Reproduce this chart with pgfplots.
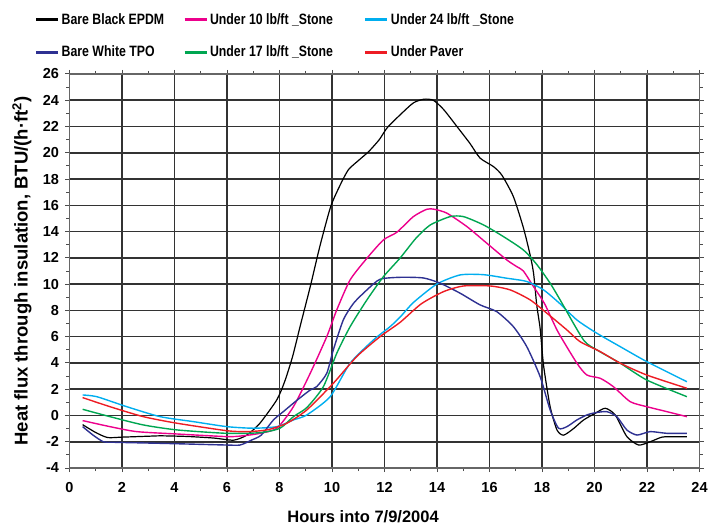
\documentclass[border=0pt]{standalone}
\usepackage{fontspec}
\setmainfont{Liberation Sans}
\newfontfamily\narrowfont{Liberation Sans}[FakeStretch=0.82]
\usepackage{pgfplots}
\pgfplotsset{compat=1.18}
\definecolor{cpink}{RGB}{236,0,140}
\definecolor{ccyan}{RGB}{0,174,239}
\definecolor{cblue}{RGB}{46,49,146}
\definecolor{cgreen}{RGB}{0,166,81}
\definecolor{cred}{RGB}{237,28,36}
\begin{document}
\begin{tikzpicture}
\useasboundingbox (-69.5pt,-59pt) rectangle (638.5pt,468pt);
\begin{axis}[
  at={(0pt,0pt)}, anchor=south west,
  scale only axis, width=630pt, height=394pt,
  xmin=0, xmax=24, ymin=-4, ymax=26,
  xtick={0,2,...,24}, ytick={-4,-2,...,26},
  minor x tick num=1, minor y tick num=1,
  tick align=outside, major tick length=4pt, minor tick length=3pt,
  grid=major, grid style={line width=1.6pt, black!80},
  axis line style={line width=1.6pt, black!60},
  tick style={line width=1pt, black!70},
  /pgf/number format/assume math mode=true,
  ticklabel style={font=\bfseries\fontsize{14.5}{16}\selectfont},
  xticklabel style={yshift=-7pt},
  yticklabel style={xshift=-3pt},
  xlabel={Hours into 7/9/2004},
  xlabel style={at={(axis description cs:0.466,-0.124)}, anchor=center, font=\bfseries\fontsize{16.5}{19}\selectfont},
  ylabel={Heat flux through insulation, BTU/(h·ft\textsuperscript{2})},
  ylabel style={at={(axis description cs:-0.0754,0.5)}, anchor=center, font=\bfseries\fontsize{18.5}{21}\selectfont},
  legend columns=3,
  legend cell align=left,
  legend image code/.code={\draw[#1, line width=2.8pt] (0pt,0pt) -- (22pt,0pt);},
  legend style={draw=none, fill=none, inner sep=0pt,
    at={(axis description cs:-0.0552,1.034)}, anchor=south west,
    row sep=16pt,
    nodes={inner sep=2pt},
    /tikz/every even column/.append style={column sep=17pt},
    font=\narrowfont\bfseries\fontsize{15}{18}\selectfont},
  every axis plot/.append style={line width=1.4pt, smooth, tension=0.4},
]
\addplot[black, line width=1.2pt] coordinates {
(0.5,-0.7) (1.0,-1.3) (1.45,-1.68) (2.0,-1.65) (3.0,-1.58) (3.5,-1.55) (4.5,-1.6) (5.5,-1.72) (6.25,-1.88) (6.75,-1.5) (7.25,-0.6) (7.9,1.2) (8.2,2.6) (8.5,4.5) (8.8,6.9) (9.17,9.8) (9.54,12.9) (9.95,15.9) (10.3,17.5) (10.62,18.7) (11.0,19.4) (11.4,20.1) (11.8,21.0) (12.1,21.9) (12.6,22.9) (13.1,23.8) (13.5,24.08) (13.86,24.0) (14.25,23.3) (14.76,22.0) (15.26,20.7) (15.64,19.6) (16.15,18.95) (16.47,18.3) (16.91,16.66) (17.29,14.3) (17.55,12.2) (17.68,10.8) (17.8,8.4) (17.93,6.6) (18.06,3.8) (18.31,0.67) (18.57,-1.1) (18.82,-1.5) (19.2,-1.0) (19.58,-0.35) (20.03,0.17) (20.41,0.55) (20.79,0.04) (21.23,-1.6) (21.68,-2.25) (22.12,-2.0) (22.57,-1.65) (23.0,-1.62) (23.52,-1.62)
};
\addlegendentry{Bare Black EPDM}
\addplot[cpink] coordinates {
(0.5,-0.39) (1.54,-0.85) (2.56,-1.23) (4.09,-1.41) (5.99,-1.61) (6.6,-1.55) (7.26,-1.36) (7.9,-0.97) (8.53,0.67) (9.17,3.21) (9.8,6.0) (10.18,8.03) (10.69,10.32) (11.33,11.97) (11.96,13.37) (12.47,13.95) (13.1,15.14) (13.61,15.7) (13.9,15.7) (14.38,15.4) (15.14,14.38) (15.9,13.11) (16.66,11.84) (17.04,11.33) (17.29,11.0) (17.68,9.8) (18.1,8.5) (18.6,6.4) (19.33,3.98) (19.71,3.08) (20.22,2.83) (20.72,2.19) (21.36,1.05) (21.99,0.67) (22.76,0.29) (23.52,-0.09)
};
\addlegendentry{Under 10 lb/ft \_Stone\hspace*{12pt}}
\addplot[ccyan] coordinates {
(0.5,1.56) (1.04,1.43) (2.18,0.67) (3.45,-0.09) (4.72,-0.47) (5.99,-0.85) (7.0,-0.97) (7.9,-0.85) (8.53,-0.34) (9.04,0.04) (9.93,1.43) (10.69,3.98) (11.58,5.75) (12.21,6.76) (12.6,7.5) (13.1,8.6) (13.99,10.0) (14.88,10.7) (15.77,10.72) (16.66,10.45) (17.42,10.2) (18.06,9.56) (18.69,8.5) (19.33,7.27) (20.09,6.26) (20.98,5.24) (21.99,4.1) (23.52,2.57)
};
\addlegendentry{Under 24 lb/ft \_Stone}
\addplot[cblue] coordinates {
(0.5,-0.85) (0.9,-1.5) (1.29,-2.0) (1.67,-2.04) (3.45,-2.12) (5.0,-2.2) (5.99,-2.25) (6.5,-2.25) (6.94,-1.87) (7.3,-1.5) (7.77,-0.34) (8.15,0.3) (8.66,1.15) (9.17,1.94) (9.42,2.2) (9.8,3.21) (10.05,4.99) (10.43,7.27) (10.82,8.54) (11.33,9.56) (11.83,10.37) (12.6,10.52) (13.48,10.47) (14.12,10.07) (14.88,9.31) (15.64,8.42) (16.28,7.9) (16.91,6.76) (17.42,5.24) (17.93,2.95) (18.31,0.42) (18.63,-0.97) (18.95,-0.85) (19.33,-0.34) (19.71,0.04) (20.03,0.21) (20.47,0.29) (20.85,-0.09) (21.23,-1.1) (21.62,-1.49) (22.12,-1.23) (22.76,-1.36) (23.52,-1.36)
};
\addlegendentry{Bare White TPO}
\addplot[cgreen] coordinates {
(0.5,0.47) (1.54,-0.09) (2.81,-0.72) (4.09,-1.1) (5.99,-1.36) (7.26,-1.31) (8.02,-0.97) (8.53,-0.09) (9.04,0.6) (9.67,2.19) (10.18,4.73) (10.69,6.76) (11.33,8.8) (11.96,10.57) (12.6,12.0) (13.2,13.5) (13.74,14.5) (14.5,15.14) (15.01,15.14) (15.77,14.51) (16.53,13.62) (17.29,12.6) (17.8,11.5) (18.31,10.07) (18.69,8.8) (19.58,5.75) (20.09,4.99) (20.98,3.98) (21.99,2.7) (23.52,1.43)
};
\addlegendentry{Under 17 lb/ft \_Stone}
\addplot[cred] coordinates {
(0.5,1.36) (1.54,0.67) (2.81,-0.09) (4.09,-0.59) (5.99,-1.16) (6.75,-1.23) (7.52,-1.1) (8.28,-0.59) (9.04,0.42) (10.05,2.45) (10.94,4.48) (11.83,6.0) (12.6,7.1) (13.4,8.5) (14.25,9.43) (15.01,9.86) (16.03,9.86) (16.79,9.56) (17.55,8.8) (18.19,7.78) (18.95,6.51) (19.45,5.62) (20.22,4.86) (20.98,3.98) (21.99,3.08) (23.52,2.07)
};
\addlegendentry{Under Paver}
\end{axis}
\end{tikzpicture}
\end{document}
